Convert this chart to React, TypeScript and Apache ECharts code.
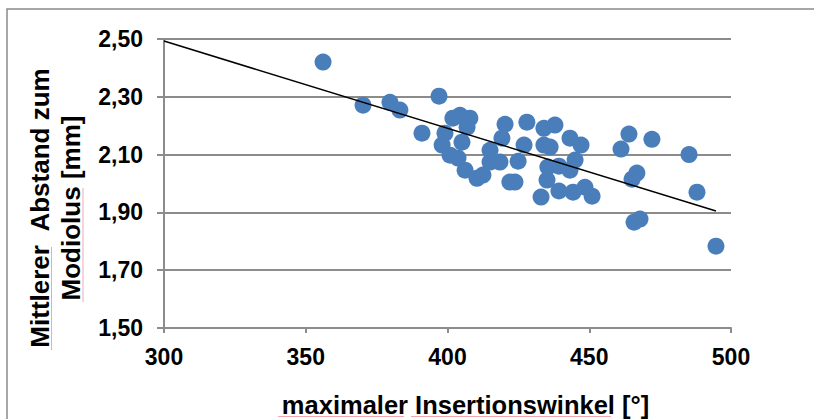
import React, { useEffect, useRef } from "react";
import * as echarts from "echarts";

// Insertion angle (°) and mean distance to modiolus (mm)
const insertionAngle: number[] = [
  356.1, 370.2, 379.7, 383.2, 391.0, 397.0, 399.1, 398.1, 401.9, 404.4,
  407.9, 406.9, 405.1, 400.9, 403.7, 406.2, 410.4, 412.5, 420.3, 428.0,
  434.0, 437.9, 419.2, 427.0, 434.0, 436.2, 415.0, 415.0, 418.5, 424.9,
  422.0, 423.8, 435.4, 439.3, 443.2, 445.0, 435.1, 433.0, 439.3, 444.3,
  448.5, 451.0, 443.2, 447.1, 461.2, 464.0, 472.1, 465.1, 466.8, 465.8,
  467.9, 485.2, 488.0, 494.7,
];
const meanDistance: number[] = [
  2.42, 2.271, 2.281, 2.254, 2.174, 2.302, 2.174, 2.133, 2.226, 2.236,
  2.226, 2.195, 2.143, 2.098, 2.088, 2.046, 2.018, 2.029, 2.205, 2.212,
  2.191, 2.202, 2.157, 2.133, 2.133, 2.126, 2.115, 2.074, 2.074, 2.077,
  2.005, 2.005, 2.057, 2.06, 2.046, 2.081, 2.012, 1.953, 1.974, 1.97,
  1.987, 1.956, 2.157, 2.133, 2.119, 2.171, 2.153, 2.015, 2.036, 1.866,
  1.877, 2.1, 1.97, 1.783,
];

// Linear trend line end points
const trendX: number[] = [300, 494.7];
const trendY: number[] = [2.493, 1.905];

const xTicks: number[] = [300, 350, 400, 450, 500];
const yTicks: number[] = [1.5, 1.7, 1.9, 2.1, 2.3, 2.5];

const FONT = "Liberation Sans, Arial, sans-serif";

export default function App() {
  const ref = useRef<HTMLDivElement>(null);

  useEffect(() => {
    document.body.style.margin = "0";
    if (!ref.current) return;
    const chart = echarts.init(ref.current, undefined, { renderer: "svg" });

    const points = insertionAngle.map((x, i) => [x, meanDistance[i]]);
    const trend = trendX.map((x, i) => [x, trendY[i]]);

    const grey = "#8c8c8c";
    const squiggle = "#f2a7ae";

    chart.setOption({
      animation: false,
      backgroundColor: "#ffffff",
      grid: { left: 164, right: 83, top: 39, bottom: 91, containLabel: false },
      xAxis: {
        type: "value",
        min: xTicks[0],
        max: xTicks[xTicks.length - 1],
        interval: 50,
        axisLine: { show: true, lineStyle: { color: grey, width: 2 } },
        axisTick: { show: true, length: 5, lineStyle: { color: grey, width: 2 } },
        splitLine: { show: false },
        axisLabel: {
          margin: 17,
          color: "#000",
          fontFamily: FONT,
          fontWeight: "bold",
          fontSize: 23,
        },
      },
      yAxis: {
        type: "value",
        min: yTicks[0],
        max: yTicks[yTicks.length - 1],
        interval: 0.2,
        axisLine: { show: true, lineStyle: { color: grey, width: 2 } },
        axisTick: { show: true, length: 7, lineStyle: { color: grey, width: 2 } },
        splitLine: { show: true, lineStyle: { color: grey, width: 2 } },
        axisLabel: {
          margin: 21,
          color: "#000",
          fontFamily: FONT,
          fontWeight: "bold",
          fontSize: 23,
          formatter: (v: number) => v.toFixed(2).replace(".", ","),
        },
      },
      graphic: [
        {
          type: "rect",
          shape: { x: 7, y: 9, width: 900, height: 500 },
          style: { fill: "none", stroke: "#8a8a8a", lineWidth: 1.5 },
          silent: true,
        },
        {
          type: "text",
          x: 465.5,
          y: 405,
          style: {
            text: "maximaler Insertionswinkel [°]",
            align: "center",
            verticalAlign: "middle",
            font: `bold 25.5px ${FONT}`,
            fill: "#000",
          },
        },
        {
          type: "text",
          x: 55,
          y: 208,
          rotation: Math.PI / 2,
          style: {
            text: "Mittlerer  Abstand zum\nModiolus [mm]",
            align: "center",
            verticalAlign: "middle",
            font: `bold 26px ${FONT}`,
            lineHeight: 31,
            fill: "#000",
          },
        },
        // spell-check underlines
        { type: "line", shape: { x1: 278, y1: 416.5, x2: 404, y2: 416.5 }, style: { stroke: squiggle, lineWidth: 1 } },
        { type: "line", shape: { x1: 411, y1: 416.5, x2: 611, y2: 416.5 }, style: { stroke: squiggle, lineWidth: 1 } },
        { type: "line", shape: { x1: 51.5, y1: 247, x2: 51.5, y2: 350 }, style: { stroke: squiggle, lineWidth: 1 } },
        { type: "line", shape: { x1: 83, y1: 188, x2: 83, y2: 302 }, style: { stroke: squiggle, lineWidth: 1 } },
      ],
      series: [
        {
          type: "scatter",
          data: points,
          symbol: "circle",
          symbolSize: 17,
          itemStyle: { color: "#4a7ebb", opacity: 1 },
          z: 2,
        },
        {
          type: "line",
          data: trend,
          symbol: "none",
          lineStyle: { color: "#000", width: 1.5 },
          z: 3,
        },
      ],
    });

    return () => chart.dispose();
  }, []);

  return (
    <div
      ref={ref}
      style={{ position: "absolute", left: 0, top: 0, width: 814, height: 419 }}
    />
  );
}
